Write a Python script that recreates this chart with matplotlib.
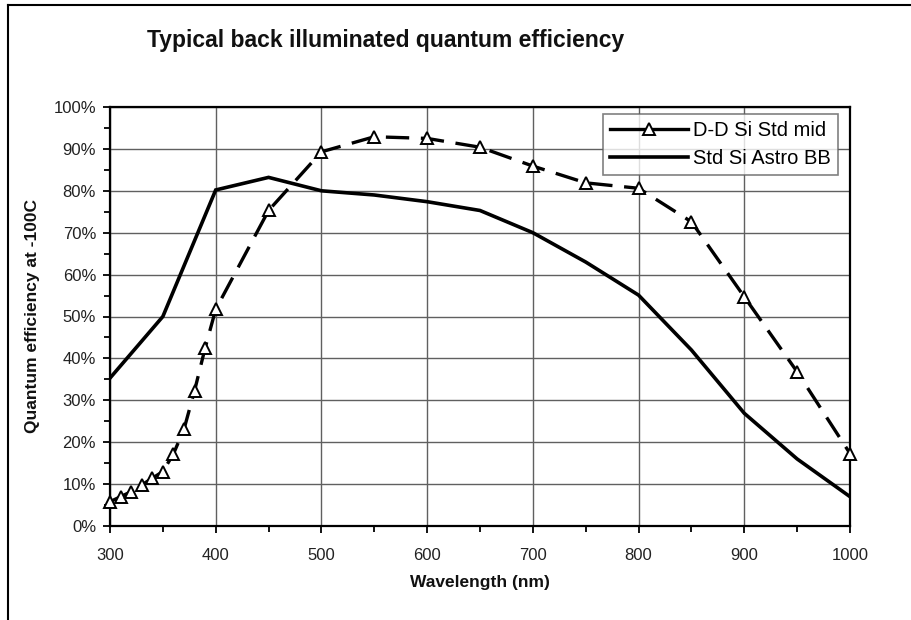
import numpy as np
import matplotlib
matplotlib.use("Agg")
import matplotlib.pyplot as plt
from matplotlib.lines import Line2D
from matplotlib.ticker import MultipleLocator, FuncFormatter

plt.rcParams["font.family"] = ["Liberation Sans", "DejaVu Sans"]

# data
dd_wl = [300, 310, 320, 330, 340, 350, 360, 370, 380, 390, 400,
         450, 500, 550, 600, 650, 700, 750, 800, 850, 900, 950, 1000]
dd_qe = [5.8, 7.0, 8.2, 9.8, 11.4, 13.0, 17.2, 23.1, 32.3, 42.5, 51.7,
         75.3, 89.3, 92.9, 92.5, 90.4, 85.9, 81.9, 80.6, 72.6, 54.7, 36.8, 17.3]

std_wl = [300, 350, 400, 450, 500, 550, 600, 650, 700, 750, 800, 850, 900, 950, 1000]
std_qe = [35.3, 50.0, 80.2, 83.2, 80.0, 79.0, 77.4, 75.3, 70.0, 63.0, 55.1, 42.0, 26.9, 16.0, 7.0]

label_dd = "D-D Si Std mid"
label_std = "Std Si Astro BB"

W, H = 911, 620
fig = plt.figure(figsize=(W / 100, H / 100), dpi=100)
ax = fig.add_axes([110 / W, 1 - 526 / H, (850 - 110) / W, (526 - 107) / H])

# grid
ax.grid(True, which="major", color="#606060", linewidth=1.0)
ax.set_axisbelow(True)

# solid series
std_line, = ax.plot(std_wl, std_qe, color="black", linewidth=2.6, label=label_std,
                    solid_joinstyle="miter", zorder=3)

# dashed series with open triangles
ln, = ax.plot(dd_wl, dd_qe, color="black", linewidth=2.4, linestyle="--",
              marker="^", markersize=9, markerfacecolor="white",
              markeredgecolor="black", markeredgewidth=1.4, label=label_dd,
              zorder=4, clip_on=False)
ln.set_dashes([7, 3.5])

ax.set_xlim(300, 1000)
ax.set_ylim(0, 100)
ax.xaxis.set_major_locator(MultipleLocator(100))
ax.xaxis.set_minor_locator(MultipleLocator(50))
ax.yaxis.set_major_locator(MultipleLocator(10))
ax.yaxis.set_minor_locator(MultipleLocator(5))
ax.yaxis.set_major_formatter(FuncFormatter(lambda v, p: "{0:d}%".format(int(round(v)))))

ax.tick_params(axis="both", which="major", direction="out", length=5, width=1.3,
               labelsize=12, labelcolor="#222222", pad=5)
ax.tick_params(axis="both", which="minor", direction="out", length=4, width=1.3)
ax.tick_params(axis="x", which="major", pad=11)

for s in ax.spines.values():
    s.set_linewidth(1.6)
    s.set_color("black")

# axis labels
fig.text(480 / W, 1 - 582 / H, "Wavelength (nm)", ha="center", va="center",
         fontsize=12.5, fontweight="bold", color="#111111")
fig.text(33 / W, 1 - 316 / H, "Quantum efficiency at -100C", ha="center", va="center",
         rotation=90, fontsize=12.5, fontweight="bold", color="#111111")

# title
fig.text(386 / W, 1 - 41 / H, "Typical back illuminated quantum efficiency",
         ha="center", va="center", fontsize=16.5, fontweight="bold", color="#111111")

# legend (dashed entry drawn as "-Δ-" like the original)
dd_handle = Line2D([], [], color="black", linewidth=2.4, linestyle="-",
                   marker="^", markersize=9, markerfacecolor="white",
                   markeredgecolor="black", markeredgewidth=1.4)
leg = ax.legend([dd_handle, std_line], [label_dd, label_std], loc="upper right",
                bbox_to_anchor=(1 - 12 / 740, 1 - 7 / 419), fontsize=14.5,
                frameon=True, fancybox=False, edgecolor="#606060",
                handlelength=3.9, borderpad=0.35, labelspacing=0.45,
                handletextpad=0.25, borderaxespad=0.0)
leg.get_frame().set_linewidth(1.2)

# outer border (only top and left visible)
fig.add_artist(Line2D([8 / W, 8 / W], [1 - 5 / H, 0], transform=fig.transFigure,
                      color="black", linewidth=1.5))
fig.add_artist(Line2D([8 / W, 1], [1 - 5 / H, 1 - 5 / H], transform=fig.transFigure,
                      color="black", linewidth=1.5))

fig.savefig("out.png", dpi=100)
